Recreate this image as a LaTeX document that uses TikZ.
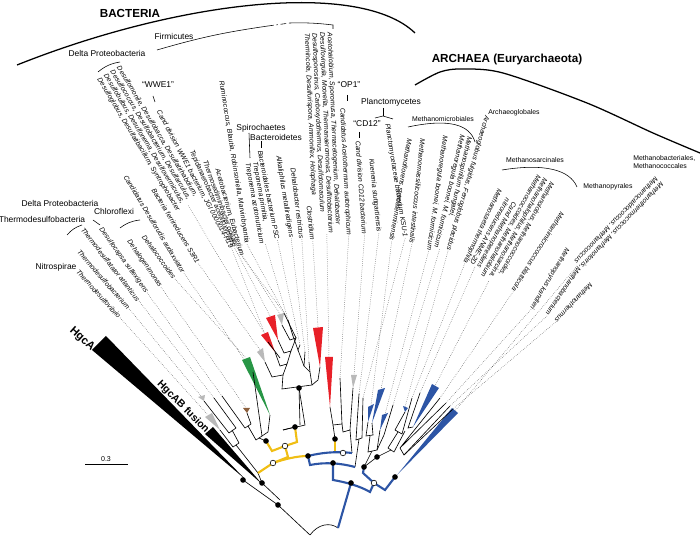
\documentclass[tikz,border=0pt]{standalone}
\usepackage{fontspec}
\setmainfont{Liberation Sans}
\usetikzlibrary{positioning, calc}

\definecolor{cladered}{RGB}{232,32,40}
\definecolor{cladegreen}{RGB}{40,150,70}
\definecolor{cladegray}{RGB}{185,185,185}
\definecolor{cladebrown}{RGB}{140,95,60}
\definecolor{cladeblue}{RGB}{45,85,165}
\definecolor{bacyellow}{RGB}{240,190,20}

% leaf: name, x, y of label start, angle, tip, text
\newcommand{\leaf}[6]{%
  \node[leaf, rotate=#4] (l#1) at (#2,-#3) {#6};
  \coordinate (t#1) at #5;
  \draw[leafline] (l#1.east) -- (t#1);}

\begin{document}
\begin{tikzpicture}[
    x=0.025cm, y=0.025cm,
    leaf/.style={font=\fontsize{4.9}{5.4}\selectfont\itshape, inner sep=0.5pt, anchor=west, align=left},
    grouplabel/.style={font=\fontsize{6}{7}\selectfont, inner sep=0pt, align=left},
    ordlabel/.style={font=\fontsize{4.9}{5.6}\selectfont, inner sep=0pt, align=left},
    domainlabel/.style={font=\fontsize{8.3}{10}\selectfont\bfseries, inner sep=0pt},
    leafline/.style={densely dotted, line width=0.35pt, black!70},
    branch/.style={line width=0.45pt},
    bacbone/.style={line width=1.5pt, bacyellow},
    arcbone/.style={line width=1.5pt, cladeblue},
    bdot/.style={circle, fill=black, inner sep=0pt, minimum size=4pt},
    wdot/.style={circle, draw=black, line width=0.4pt, fill=white, inner sep=0pt, minimum size=4pt}
]
\useasboundingbox (0,0) rectangle (700,-536);

% ================= LEAVES =================
\leaf{1}{77}{270}{-48}{(208,-415)}{Thermodesulfovibrio}
\leaf{2}{78}{250}{-49}{(201,-396)}{Thermodesulfobacterium}
\leaf{3}{82}{228}{-52}{(214,-398)}{Thermodesulfatator atlanticus}
\leaf{4}{100}{228}{-54}{(222,-396)}{Desulfocapsa sulfexigens}
\leaf{5}{128}{240}{-55}{(246,-408)}{Dehalogenimonas}
\leaf{6}{143}{235}{-54}{(246,-358)}{Dehalococcoides}
\leaf{7}{125}{175}{-59}{(253,-372)}{Candidatus Desulforudis audaxviator}
\leaf{8}{153}{188}{-59}{(260,-350)}{Bacteria ferrireducens S3R1}
\leaf{9}{108}{72}{-59}{(264,-333)}{Desulfomonile, Desulfobacca, Desulfatirhabdium,\\Desulfococcus, Desulfobacterium, Desulfarculus,\\Desulfobulbus, Desulfonema, Desulfovermiculus,\\Desulfoglobus, Desulfatibacillum, Syntrophobacter}
\leaf{10}{158}{110}{-62}{(268,-342)}{Cand division WWE1 bacterium, JGI 0000014-H19}
\leaf{12}{191}{150}{-66}{(270,-316)}{Tepidanaerobacter acetatoxydans}
\leaf{13}{205}{160}{-70}{(280,-314)}{Thermosediminibacter oceani}
\leaf{14}{217}{168}{-74}{(284,-313)}{Acetobacterium, Eubacterium}
\leaf{15}{221}{80}{-81}{(288,-320)}{Ruminococcus, Blautia, Robinsoniella, Marvinbryantia}
\leaf{16}{251}{162}{-80}{(293,-336)}{Treponema primitia,\\Treponema azotonutricium}
\leaf{17}{260}{150}{-79}{(300,-345)}{Bacteroidales bacterium PSC}
\leaf{18}{278}{155}{-81}{(305,-352)}{Alkaliphilus metalliredigens}
\leaf{19}{293}{167}{-83}{(309,-362)}{Dehalobacter restrictus}
\leaf{20}{309}{205}{-84}{(318,-327)}{Clostridium}
\leaf{21}{318}{32}{-87.5}{(329,-357)}{Acetohalobium, Sporomusa, Thermacetogenium, Dehalobacter\\Desulfovirgula, Moorella, Thermanaeromonas, Desulfitobacterium\\Desulfosporosinus, Carboxydothermus, Desulfotomaculum\\Thermincola, Desulfurispora, Ammonifex, Holophaga}
\leaf{22}{342}{107}{-87}{(340,-378)}{Candidatus Acetothermum autotrophicum}
\leaf{23}{358}{140}{-86}{(354,-375)}{Cand division CD12 bacterium}
\leaf{24}{371}{158}{-84}{(359,-394)}{Kuenenia stuttgartiensis}
\leaf{25}{387}{123}{-81}{(363,-398)}{Planctomycetaceae bacterium KSU-1}
\leaf{26}{410}{138}{-100}{(371,-405)}{Methanoflorens stordalenmirensis}
\leaf{27}{423}{138}{-96}{(381,-389)}{Methanomassiliicoccus intestinalis}
\leaf{28}{445}{135}{-98}{(385,-414)}{Methanoregula boonei, M. formicicum}
\leaf{29}{466}{135}{-103}{(393,-405)}{Methanospirillum hungatei,\\Methanoregula boonei, M. formicicum}
\leaf{30}{487}{115}{-106}{(405,-407)}{Archaeoglobus fulgidus, Ferroglobus placidus}
\leaf{31}{500}{188}{-115}{(412,-398)}{Methanosaeta thermophila}
\leaf{32}{512}{200}{-119}{(420,-393)}{Cand Methanoperedens\\nitroreducens ANME-2D}
\leaf{33}{546}{178}{-119}{(435,-386)}{Methanolobus, Methanococcoides,\\Methanohalophilus, Methanosarcina,\\Methanococcoides, Methanohalobium}
\leaf{34}{563}{212}{-122}{(440,-398)}{Methanimicrococcus blatticola}
\leaf{35}{568}{248}{-121}{(446,-403)}{Methanopyrus kandleri}
\leaf{36}{580}{267}{-124}{(450,-406)}{Methanobacterium}
\leaf{37}{592}{283}{-133}{(453,-409)}{Methanothermus}
\leaf{38}{660}{180}{-134}{(455,-411)}{Methanothermococcus, Methanotorris,\\Methanocaldococcus, Methanococcus}

% ================= GROUP LABELS =================
\node[domainlabel] (bac) at (130,-13) {BACTERIA};
\node[domainlabel] (arc) at (507,-59) {ARCHAEA (Euryarchaeota)};
\draw[line width=0.9pt] (17,-65) .. controls (180,0) and (360,20) .. (415,-33);
\draw[line width=0.9pt] plot[smooth] coordinates {(415,-85) (440,-72) (462,-69) (503,-73) (587,-103) (653,-133) (700,-153)};

\node[grouplabel] (firm) at (174,-36) {Firmicutes};
\draw (157,-50) to[bend left=4] (268,-26);
\draw[dash pattern=on 4pt off 2pt on 1pt off 2pt] (268,-26) -- (290,-23);
\draw (290,-23) to[bend left=4] (333,-25) -- (333,-29);

\node[grouplabel] (delta) at (107,-53) {Delta Proteobacteria};
\draw (98,-72) to[bend left=15] (120,-62);
\node[grouplabel] (wwe) at (158,-85) {``WWE1''};
\draw (153,-96) -- (155,-102);
\node[grouplabel] (op1) at (349,-85) {``OP1''};
\draw (347,-95) -- (347,-101);
\node[grouplabel] (cd12) at (367,-124) {``CD12''};
\draw (359,-132) -- (359,-138);
\node[grouplabel] (planc) at (391,-102) {Planctomycetes};
\draw (383,-108) -- (383,-116);
\draw (375,-118) -- (383,-116) -- (393,-119);
\node[grouplabel] (spiro) at (261,-128) {Spirochaetes};
\draw (249,-133) -- (250,-158);
\node[grouplabel] (bactd) at (276,-137) {Bacteroidetes};
\draw (261,-141) -- (261,-148);

\node[grouplabel] (delta2) at (60,-203) {Delta Proteobacteria};
\node[grouplabel] (thermo) at (42,-219) {Thermodesulfobacteria};
\node[grouplabel] (chloro) at (114,-211) {Chloroflexi};
\node[grouplabel] (nitro) at (56,-267) {Nitrospirae};
\draw (67,-235) to[bend left=15] (82,-225);
\draw (93,-220) -- (100,-225);
\draw (120,-228) to[bend left=15] (140,-220);

\node[ordlabel] (mmic) at (443,-119) {Methanomicrobiales};
\draw (408,-127) .. controls (450,-118) and (470,-125) .. (475,-142);
\node[ordlabel] (aglob) at (514,-113) {Archaeoglobales};
\node[ordlabel] (msarc) at (535,-160) {Methanosarcinales};
\draw (502,-170) .. controls (545,-163) and (570,-170) .. (577,-187);
\node[ordlabel] (mpyr) at (608,-187) {Methanopyrales};
\node[ordlabel, anchor=west] (mbac) at (633,-162) {Methanobacteriales,\\Methanococcales};

% ================= TREE: HgcA / fusion =================
\fill (92,-350) -- (106,-336) -- (245,-479) -- cycle;
\fill (205,-434) -- (213,-427) -- (262,-484) -- cycle;
\node[font=\fontsize{8}{9}\selectfont\bfseries, rotate=-42] (hgca) at (82,-339) {HgcA};
\node[font=\fontsize{7.4}{8}\selectfont\bfseries, rotate=-45] (fus) at (183,-407) {HgcAB fusion};
\coordinate (root) at (310,-535);
\draw[branch] (243,-480) -- (278,-505) -- (root);
\draw[branch] (262,-483) -- (280,-500);
\draw[branch] (262,-483) -- (258,-473);
\draw[branch] (root) .. controls (318,-524) and (330,-522) .. (338,-528);

% ================= TREE: bacteria =================
\fill[cladegray] (205,-417) -- (212,-413) -- (220,-430) -- cycle;
\fill[cladegray] (198,-397) -- (205,-395) -- (204,-401) -- cycle;
\fill[cladebrown] (243,-408) -- (250,-408) -- (247,-413) -- cycle;
\fill[cladegreen] (242,-360) -- (250,-357) -- (270,-415) -- cycle;
\fill[cladegray] (257,-352) -- (263,-348) -- (265,-362) -- cycle;
\fill[cladered] (261,-335) -- (268,-332) -- (275,-352) -- cycle;
\fill[cladered] (266,-318) -- (275,-315) -- (278,-340) -- cycle;
\fill[cladegray] (277,-315) -- (284,-313) -- (282,-325) -- cycle;
\fill[cladered] (313,-328) -- (323,-327) -- (320,-367) -- cycle;
\fill[cladered] (325,-357) -- (333,-357) -- (330,-407) -- cycle;
\fill[cladegray] (351,-375) -- (357,-375) -- (353,-388) -- cycle;

% left clade
\draw[branch] (204,-401) -- (229,-433) -- (236,-428) -- (t3);
\draw[branch] (220,-430) -- (233,-447) -- (239,-443) -- (232,-430);
\draw[branch] (236,-445) -- (258,-473);
\draw[branch] (t4) -- (245,-428) -- (251,-424) -- (247,-413);
\draw[branch] (248,-426) -- (256,-440) -- (262,-436) -- (t7);
\draw[branch] (270,-415) -- (268,-432) -- (262,-436);
\draw[branch] (259,-438) -- (266,-441);
% middle clade
\draw[branch] (265,-362) -- (272,-377) -- (283,-375);
\draw[branch] (275,-352) -- (280,-366) -- (287,-364) -- (283,-375);
\draw[branch] (t10) -- (280,-358);
\draw[branch] (278,-340) -- (284,-353) -- (291,-351) -- (287,-364);
\draw[branch] (282,-325) -- (290,-340) -- (296,-338) -- (291,-351);
\draw[branch] (t14) -- (296,-338);
\draw[branch] (t15) -- (293,-336);
\draw[branch] (t16) -- (298,-350) -- (t17);
\draw[branch] (283,-375) -- (282,-389) -- (312,-385) -- (310,-372) -- (t19);
\draw[branch] (t18) -- (304,-366) -- (310,-372);
\draw[branch] (298,-350) -- (304,-366);
\draw[branch] (320,-367) -- (318,-380) -- (312,-385);
\draw[branch] (299,-388) -- (300,-425);
\draw[branch] (283,-430) .. controls (290,-428) and (298,-427) .. (305,-425) -- (299,-388);
\draw[branch] (283,-430) -- (295,-427);
\draw[branch] (330,-407) -- (333,-425) -- (342,-424) -- (t22);
\draw[branch] (333,-425) -- (335,-439);
\draw[branch] (353,-388) -- (350,-430) -- (343,-432) -- (342,-424);
\draw[branch] (350,-430) -- (352,-453);
\draw[branch] (t24) -- (356,-440) -- (362,-438) -- (t25);
\draw[branch] (359,-439) -- (355,-467);

\draw[bacbone] (258,-473) -- (273,-463);
\draw[bacbone] (273,-463) .. controls (285,-459) and (297,-456) .. (308,-456);
\draw[bacbone] (273,-463) -- (288,-457) -- (285,-446);
\draw[bacbone] (285,-446) -- (272,-451) -- (266,-441);
\draw[bacbone] (285,-446) -- (297,-442) -- (295,-427);
\draw[bacbone] (335,-439) -- (335,-452);

% ================= TREE: archaea =================
\draw[arcbone] (308,-456) .. controls (320,-453) and (335,-451) .. (352,-453);
\draw[arcbone] (308,-456) -- (310,-465) .. controls (325,-462) and (340,-463) .. (355,-467);
\draw[arcbone] (333,-463) -- (333,-480) .. controls (345,-482) and (360,-486) .. (370,-492) -- (374,-483);
\draw[arcbone] (351,-483) -- (338,-528);
\draw[arcbone] (374,-483) -- (363,-473) -- (364,-467);
\draw[arcbone] (374,-483) -- (385,-490) -- (395,-477);

\fill[cladeblue] (368,-407) -- (374,-404) -- (368,-422) -- cycle;
\fill[cladeblue] (378,-390) -- (385,-388) -- (372,-423) -- cycle;
\fill[cladeblue] (382,-415) -- (388,-413) -- (380,-430) -- cycle;
\fill[cladeblue] (403,-406) -- (408,-408) -- (405,-412) -- cycle;
\fill[cladeblue] (432,-384) -- (439,-388) -- (413,-427) -- cycle;
\fill[cladeblue] (452,-408) -- (458,-413) -- (397,-475) -- cycle;

\draw[branch] (368,-422) -- (366,-436) -- (373,-435) -- (372,-423);
\draw[branch] (370,-436) -- (368,-452) -- (377,-450) -- (380,-430);
\draw[branch] (t29) -- (384,-435) -- (377,-450);
\draw[branch] (364,-467) -- (372,-451);
\draw[branch] (405,-412) -- (395,-430) -- (402,-434) -- (t31);
\draw[branch] (t32) -- (408,-428) -- (413,-427);
\draw[branch] (398,-432) -- (388,-448) -- (394,-452) -- (405,-431);
\draw[branch] (391,-450) -- (377,-457);
\draw[branch] (t34) -- (400,-448) -- (t35);
\draw[branch] (t36) -- (404,-455) -- (400,-448);
\draw[branch] (t37) -- (404,-455);
\draw[branch] (364,-467) -- (377,-457);

% ================= NODE DOTS =================
\foreach \p in {(243,-480),(262,-483),(278,-505),(266,-441),(295,-427),(299,-388),(308,-456),(335,-439),(333,-463),(351,-483),(364,-467),(377,-457),(395,-477)}{
    \node[bdot] at \p {};
}
\foreach \p in {(273,-463),(285,-446),(343,-453),(374,-483)}{
    \node[wdot] at \p {};
}

% scale bar
\draw[line width=0.6pt] (85,-464) -- (128,-464);
\node[font=\fontsize{5}{6}\selectfont] (scale) at (106,-459) {0.3};
\end{tikzpicture}
\end{document}
